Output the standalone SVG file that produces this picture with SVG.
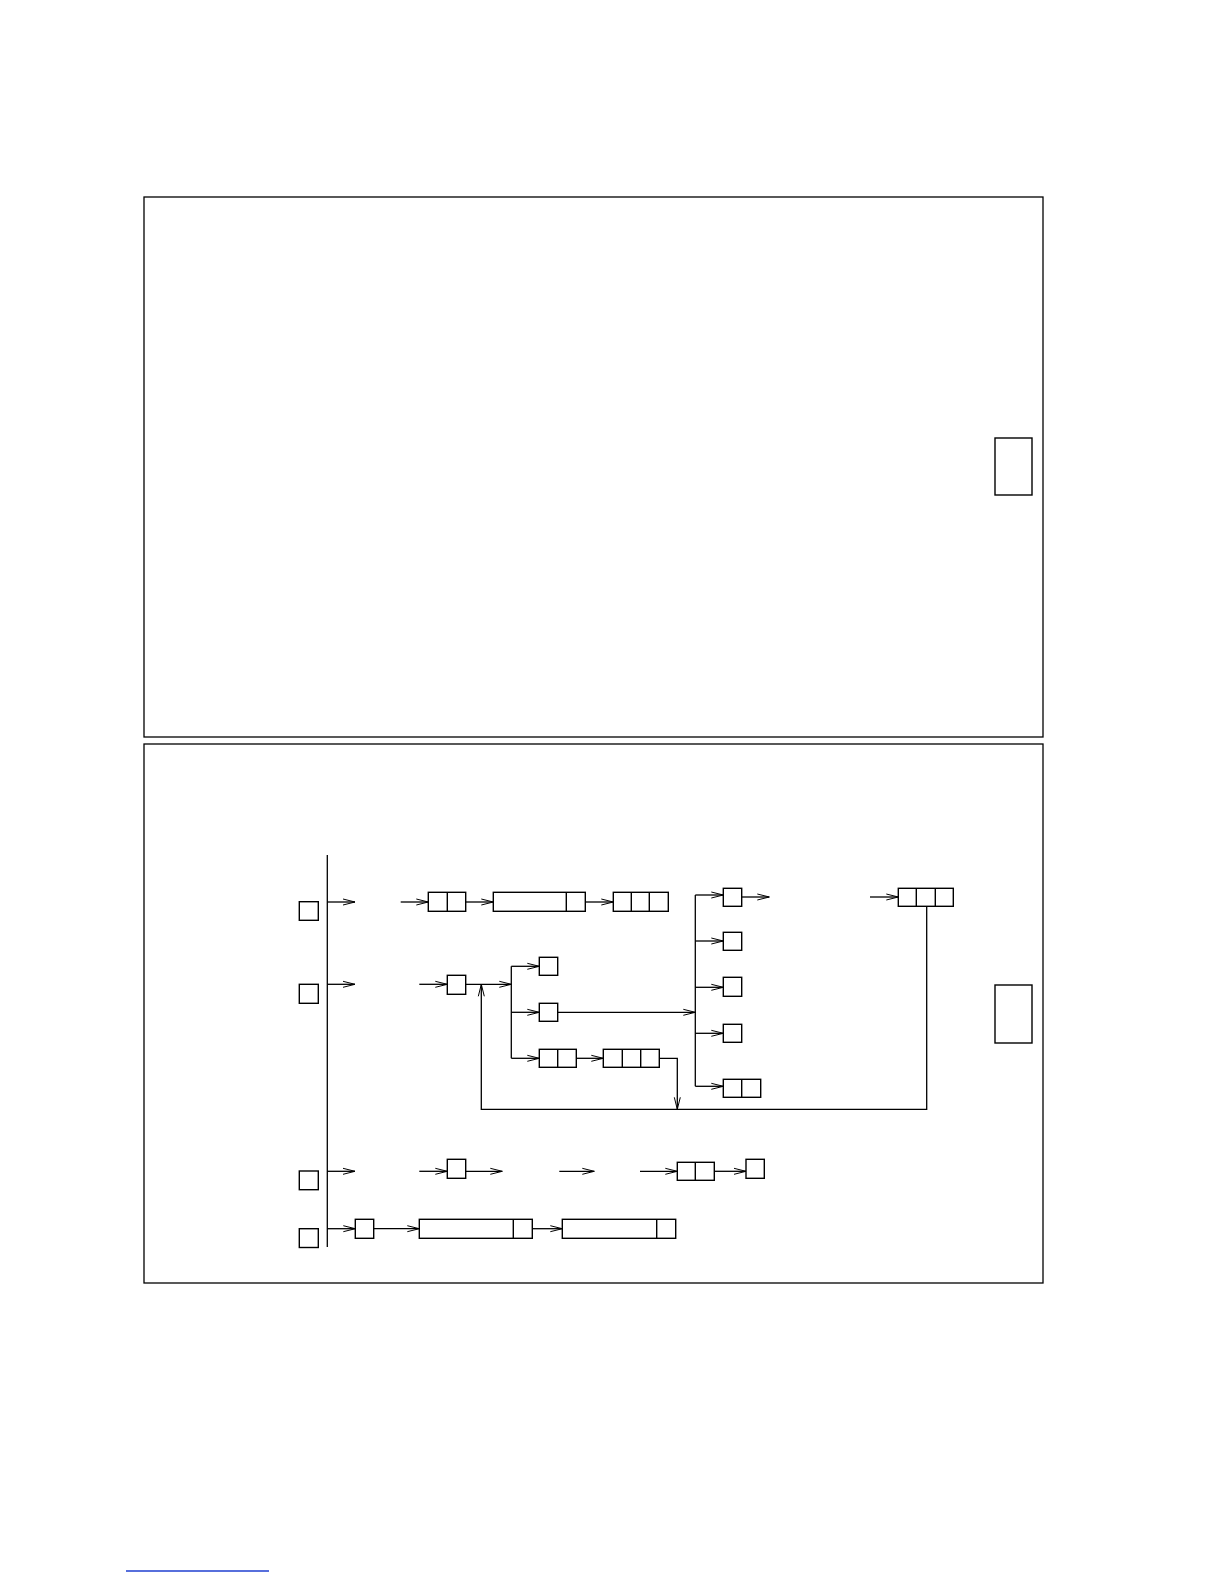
<svg xmlns="http://www.w3.org/2000/svg" width="1224" height="1584" viewBox="0 0 1224 1584">
<style>
.b{fill:none;stroke:#000;stroke-width:1.4}
.f{fill:none;stroke:#000;stroke-width:1.3}
.c{fill:none;stroke:#000;stroke-width:1.3}
.a{marker-end:url(#ar)}
</style>
<defs>
<marker id="ar" markerUnits="userSpaceOnUse" markerWidth="14" markerHeight="8" refX="12" refY="3" orient="auto" viewBox="-1 -1 14 8">
<path d="M0,0 L12,3 L0,6" fill="none" stroke="#000" stroke-width="1"/>
</marker>
</defs>
<rect width="1224" height="1584" fill="#fff"/>
<g id="frames">
<rect id="frame1" class="f" x="144" y="197" width="899" height="540"/>
<rect id="frame2" class="f" x="144" y="744" width="899" height="539"/>
</g>
<g id="legend1"><rect class="b" x="995" y="438" width="37" height="57"/></g>
<g id="legend2"><rect class="b" x="995" y="985" width="37" height="58"/></g>
<g id="connectors">
<path class="c" d="M327.3,855 V1247"/>
<path class="c a" d="M327.3,902 H355"/>
<path class="c a" d="M400.7,902 H428.3"/>
<path class="c a" d="M465.7,902 H493.3"/>
<path class="c a" d="M585.3,902 H613.3"/>
<path class="c" d="M695.3,895 V1086.3"/>
<path class="c a" d="M695.3,895 H723.3"/>
<path class="c a" d="M695.3,941 H723.3"/>
<path class="c a" d="M695.3,987.3 H723.3"/>
<path class="c a" d="M695.3,1033.3 H723.3"/>
<path class="c a" d="M695.3,1086.3 H723.3"/>
<path class="c a" d="M741.7,897 H769.3"/>
<path class="c a" d="M870,897 H898.3"/>
<path class="c a" d="M926.7,906.3 V1109.3 H481.3 V984.3"/>
<path class="c a" d="M327.3,984.3 H355"/>
<path class="c a" d="M419.3,984.3 H447.3"/>
<path class="c a" d="M465.7,984.3 H511.3"/>
<path class="c" d="M511.3,966.3 V1058.3"/>
<path class="c a" d="M511.3,966.3 H539.3"/>
<path class="c a" d="M511.3,1012.3 H539.3"/>
<path class="c a" d="M511.3,1058.3 H539.3"/>
<path class="c a" d="M557.7,1012.3 H695.3"/>
<path class="c a" d="M576.3,1058.3 H603.3"/>
<path class="c a" d="M659.3,1058.3 H677.3 V1109.3"/>
<path class="c a" d="M327.3,1171.3 H355"/>
<path class="c a" d="M419.3,1171.3 H447.3"/>
<path class="c a" d="M465.7,1171.3 H502.3"/>
<path class="c a" d="M559.3,1171.3 H594.3"/>
<path class="c a" d="M640,1171.3 H677.3"/>
<path class="c a" d="M714.3,1171.3 H746"/>
<path class="c a" d="M327.3,1228.7 H355.3"/>
<path class="c a" d="M373.7,1228.7 H419.3"/>
<path class="c a" d="M532.3,1228.7 H562.3"/>
</g>
<g id="A1"><rect class="b" x="299.3" y="901.7" width="19" height="18.6"/></g>
<g id="A2"><rect class="b" x="299.3" y="984.3" width="19" height="19"/></g>
<g id="A3"><rect class="b" x="299.3" y="1171" width="19" height="18.7"/></g>
<g id="A4"><rect class="b" x="299.3" y="1228.7" width="19" height="18.8"/></g>
<g id="B"><rect class="b" x="428.3" y="892.3" width="37.4" height="19"/><path class="b" d="M447.3,892.3 V911.3"/></g>
<g id="C"><rect class="b" x="493.3" y="892.3" width="92" height="19"/><path class="b" d="M566.3,892.3 V911.3"/></g>
<g id="D"><rect class="b" x="613.3" y="892.3" width="55" height="19"/><path class="b" d="M631.3,892.3 V911.3 M649.3,892.3 V911.3"/></g>
<g id="E1"><rect class="b" x="723.3" y="888.3" width="18.4" height="18"/></g>
<g id="E2"><rect class="b" x="723.3" y="932.3" width="18.4" height="18"/></g>
<g id="E3"><rect class="b" x="723.3" y="977.3" width="18.4" height="19"/></g>
<g id="E4"><rect class="b" x="723.3" y="1024.3" width="18.4" height="18"/></g>
<g id="E5"><rect class="b" x="723.3" y="1079.3" width="37.4" height="18"/><path class="b" d="M741.7,1079.3 V1097.3"/></g>
<g id="F"><rect class="b" x="898.3" y="888.3" width="55" height="18"/><path class="b" d="M916.3,888.3 V906.3 M935.3,888.3 V906.3"/></g>
<g id="G"><rect class="b" x="447.3" y="975.3" width="18.4" height="19"/></g>
<g id="H1"><rect class="b" x="539.3" y="957.3" width="18.4" height="18"/></g>
<g id="H2"><rect class="b" x="539.3" y="1003.3" width="18.4" height="18"/></g>
<g id="H3"><rect class="b" x="539.3" y="1049.3" width="37" height="18"/><path class="b" d="M557.7,1049.3 V1067.3"/></g>
<g id="H4"><rect class="b" x="603.3" y="1049.3" width="56" height="18"/><path class="b" d="M622.3,1049.3 V1067.3 M640.7,1049.3 V1067.3"/></g>
<g id="I"><rect class="b" x="447.3" y="1159.3" width="18.4" height="19"/></g>
<g id="J"><rect class="b" x="677.3" y="1162.3" width="37" height="18"/><path class="b" d="M695.3,1162.3 V1180.3"/></g>
<g id="K"><rect class="b" x="746" y="1159.3" width="18.3" height="19"/></g>
<g id="L"><rect class="b" x="355.3" y="1219.3" width="18.4" height="19"/></g>
<g id="M"><rect class="b" x="419.3" y="1219.3" width="113" height="19"/><path class="b" d="M513.3,1219.3 V1238.3"/></g>
<g id="N"><rect class="b" x="562.3" y="1219.3" width="113.4" height="19"/><path class="b" d="M656.7,1219.3 V1238.3"/></g>
<line x1="126" y1="1571" x2="269" y2="1571" stroke="#1f3fd0" stroke-width="1.3"/>
</svg>
